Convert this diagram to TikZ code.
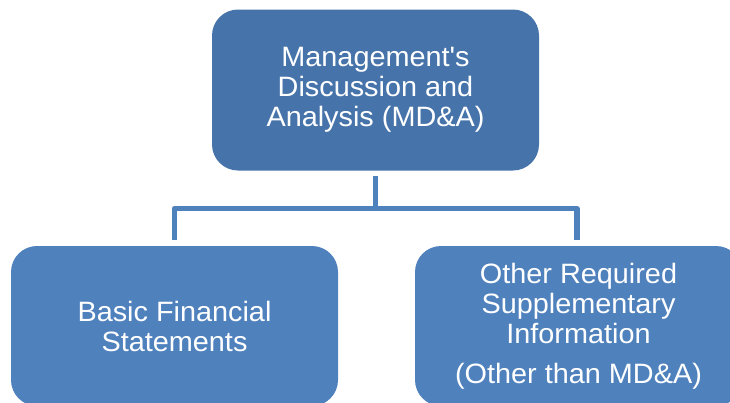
\documentclass[tikz,border=0pt]{standalone}
\usepackage{fontspec}
\newfontfamily\lsans[FakeStretch=1.03]{Liberation Sans}
\definecolor{topblue}{HTML}{4674AA}
\definecolor{boxblue}{HTML}{4F81BD}
\begin{document}
\begin{tikzpicture}[x=1pt,y=-1pt,
  box/.style={rounded corners=26pt, minimum width=327pt, minimum height=160pt,
    inner sep=0pt, align=center, text=white,
    font=\lsans\fontsize{28}{30}\selectfont},
  conn/.style={draw=boxblue, line width=5.3pt, line join=round}]
\useasboundingbox (0,0) rectangle (730,402);
\clip (0,0) rectangle (730,402);
\node[box, fill=topblue, minimum height=161pt] (mda) at (375.5,90) {Management's\\Discussion and\\Analysis (MD\&A)};
\node[box, fill=boxblue] (bfs) at (174.5,326) {Basic Financial\\Statements};
\node[box, fill=boxblue] (rsi) at (578.5,326) {Other Required\\Supplementary\\Information\\[10pt](Other than MD\&A)};
\coordinate (bus) at (375.5,208.5);
\draw[conn, shorten <=5.5pt] (mda.south) -- (bus);
\draw[conn, shorten <=5.5pt, shorten >=5.5pt] (bfs.north) |- (bus) -| ([xshift=-1.5pt]rsi.north);
\end{tikzpicture}
\end{document}
